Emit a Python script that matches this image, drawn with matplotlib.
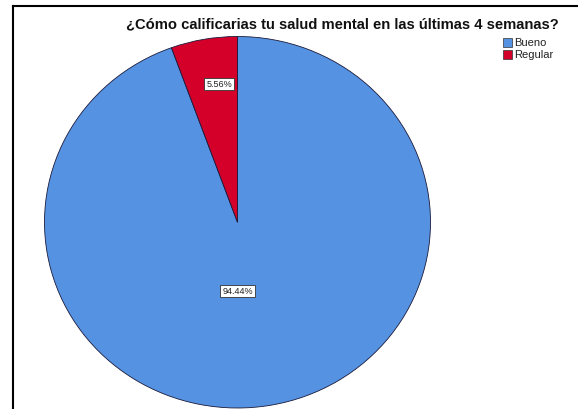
"""Pie chart of self-rated mental health over the last 4 weeks."""

import matplotlib

matplotlib.use("Agg")
import matplotlib.pyplot as plt
from matplotlib.lines import Line2D
from matplotlib.patches import Rectangle

CATEGORIES = ["Bueno", "Regular"]
PERCENTAGES = [94.44, 5.56]
COLORS = ["#5592e2", "#d4002a"]
TITLE = "¿Cómo calificarias tu salud mental en las últimas 4 semanas?"

# where each percentage label sits, in pie radius units
LABEL_POS = [(0.0, -0.37), (-0.095, 0.745)]

W, H = 578, 410

plt.rcParams["font.family"] = ["Liberation Sans", "DejaVu Sans"]

fig = plt.figure(figsize=(W / 100, H / 100), dpi=100)
fig.patch.set_facecolor("white")

# pie area (slightly stretched horizontally)
ax = fig.add_axes([44.5 / W, 1 / H, 386 / W, 371.5 / H])
wedges, _ = ax.pie(
    PERCENTAGES,
    colors=COLORS,
    startangle=90,
    counterclock=False,
    wedgeprops=dict(edgecolor="#1a1a3a", linewidth=0.6),
)
ax.set_aspect("auto")
ax.set_xlim(-1, 1)
ax.set_ylim(-1, 1)
ax.axis("off")
for w in wedges:
    w.set_clip_on(False)

for pct, (x, y) in zip(PERCENTAGES, LABEL_POS):
    ax.text(
        x, y, f"{pct:.2f}%",
        ha="center", va="center", fontsize=6.5, color="#222222",
        bbox=dict(boxstyle="square,pad=0.2", facecolor="white",
                  edgecolor="#333333", linewidth=0.6),
    )

fig.text(342.5 / W, 1 - 24 / H, TITLE, ha="center", va="center",
         fontsize=10.6, fontweight="bold", color="#111111")

# legend swatches
for i, (name, color) in enumerate(zip(CATEGORIES, COLORS)):
    top = 39 + i * 12
    fig.patches.append(Rectangle(
        (503 / W, 1 - (top + 9) / H), 9 / W, 9 / H,
        transform=fig.transFigure, facecolor=color,
        edgecolor="#333333", linewidth=0.5,
    ))
    fig.text(514 / W, 1 - (top + 4.5) / H, name, ha="left", va="center",
             fontsize=8, color="#222222")

# outer frame (top and left edges)
fig.lines.append(Line2D([13 / W, 1.0], [1 - 7 / H, 1 - 7 / H],
                        transform=fig.transFigure, color="black", linewidth=1.5))
fig.lines.append(Line2D([13 / W, 13 / W], [0.0, 1 - 7 / H],
                        transform=fig.transFigure, color="black", linewidth=1.5))

fig.savefig("out.png", dpi=100)
